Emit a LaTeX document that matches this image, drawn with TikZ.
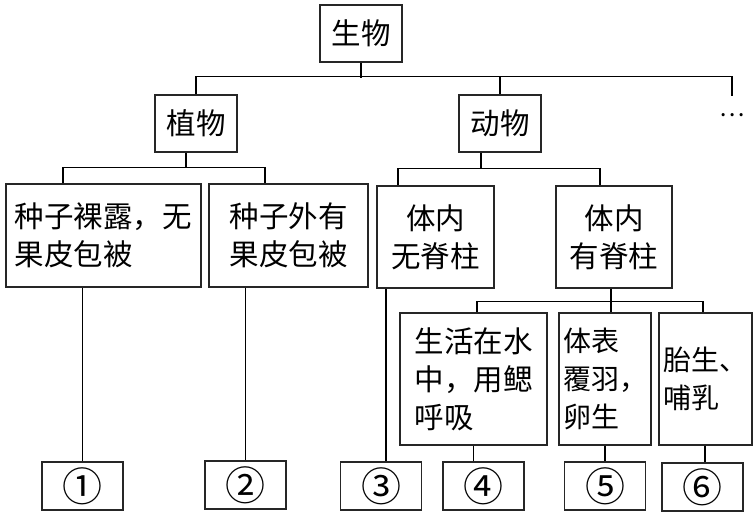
\documentclass[tikz,border=0pt]{standalone}
\usepackage{fontspec}
\setmainfont{Noto Sans CJK SC}
\usepackage{tikz}

\begin{document}
\begin{tikzpicture}[x = 1pt, y = -1pt, line width = 1.2pt,
  box/.style = {draw = black!85, rectangle, inner sep = 0pt, align = left,
    font = \fontsize{29.5}{38}\selectfont},
  numbox/.style = {draw = black!85, rectangle, inner sep = 0pt,
    minimum width = 81pt, minimum height = 48pt, font = \fontsize{40}{40}\selectfont}]
\useasboundingbox (0,0) rectangle (756,515);

\node[box, minimum width = 82pt, minimum height = 57pt] (root) at (361,33.5) {生物};
\node[box, minimum width = 82pt, minimum height = 57pt] (plant) at (196,123.5) {植物};
\node[box, minimum width = 82pt, minimum height = 57pt] (animal) at (500,123.5) {动物};
\node[minimum height = 36pt, inner sep = 0pt, font = \fontsize{24}{24}\selectfont] (dots) at (732,115) {…};

\node[box, minimum width = 195pt, minimum height = 103pt] (gym) at (103.5,235.5) {种子裸露，无\\果皮包被};
\node[box, minimum width = 159pt, minimum height = 103pt] (ang) at (288.5,235.5) {种子外有\\果皮包被};
\node[box, align = center, minimum width = 117pt, minimum height = 102pt] (invert) at (435.5,237) {体内\\无脊柱};
\node[box, align = center, minimum width = 116pt, minimum height = 102pt] (vert) at (614,237) {体内\\有脊柱};

\node[box, minimum width = 147pt, minimum height = 132pt] (fish) at (473.5,379) {生活在水\\中，用鳃\\呼吸};
\node[box, font = \fontsize{28}{38}\selectfont, minimum width = 92pt, minimum height = 132pt] (bird) at (605,379) {体表\\覆羽，\\卵生};
\node[box, font = \fontsize{28}{38}\selectfont, minimum width = 93pt, minimum height = 132pt] (mammal) at (705.5,379) {胎生、\\哺乳};

\node[numbox] (n1) at (82.5,486) {①};
\node[numbox] (n2) at (245.5,485) {②};
\node[numbox] (n3) at (381,486) {③};
\node[numbox] (n4) at (483.5,486) {④};
\node[numbox] (n5) at (605,486) {⑤};
\node[numbox] (n6) at (702.5,487) {⑥};

\draw (root.south) -- ++(0,15);
\draw (plant.north) -- ++(0,-18) -| (dots.north);
\draw (animal.north) -- ++(0,-18);

\draw ([xshift=-10pt]plant.south) -- ++(0,15) coordinate (b1);
\draw ([xshift=-40.5pt]gym.north) |- (b1) -| ([xshift=-23.5pt]ang.north);
\draw ([xshift=-21pt]gym.south) -- (n1.north);
\draw ([xshift=-43pt]ang.south) -- (n2.north);

\draw ([xshift=-19pt]animal.south) -- ++(0,16) coordinate (b2);
\draw ([xshift=-37.5pt]invert.north) |- (b2) -| ([xshift=-14pt]vert.north);
\draw ([xshift=-49.5pt]invert.south) -- ([xshift=5pt]n3.north);

\draw ([xshift=-3pt]vert.south) -- ([xshift=6pt]bird.north);
\draw ([xshift=3.5pt]fish.north) -- ++(0,-11) -| ([xshift=-2.5pt]mammal.north);
\draw (fish.south) -- ([xshift=-10pt]n4.north);
\draw (bird.south) -- (n5.north);
\draw ([xshift=-0.5pt]mammal.south) -- ([xshift=2.5pt]n6.north);
\end{tikzpicture}
\end{document}
